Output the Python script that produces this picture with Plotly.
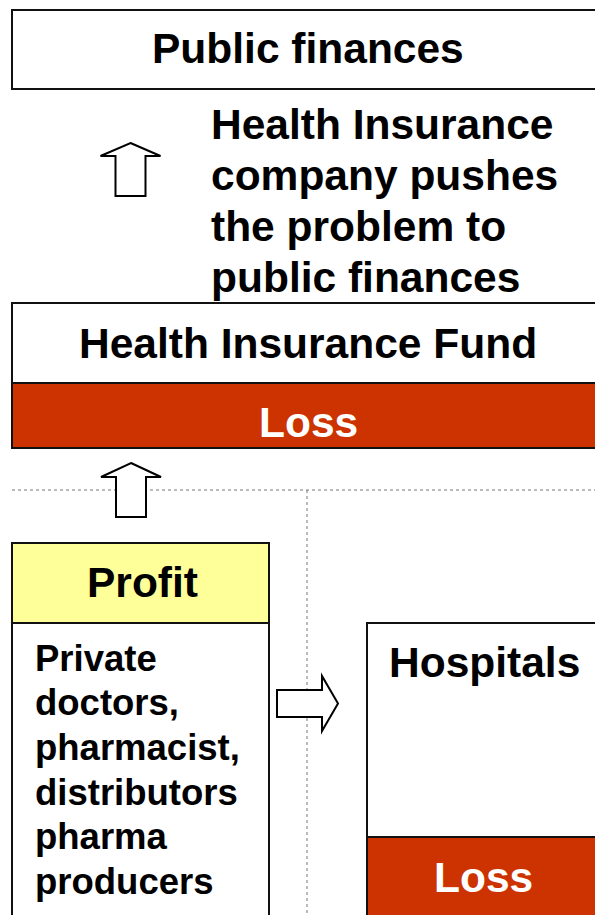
import plotly.graph_objects as go

W, H = 595, 915
FONT = "Liberation Sans, Arial, sans-serif"
LOSS_RED = "#CC3300"
PROFIT_YELLOW = "#FFFF99"

top_label = "Public finances"
push_lines = ["Health Insurance", "company pushes", "the problem to", "public finances"]
fund_label = "Health Insurance Fund"
loss_label = "Loss"
profit_label = "Profit"
provider_lines = ["Private", "doctors,", "pharmacist,", "distributors", "pharma", "producers"]
hospital_label = "Hospitals"

fig = go.Figure()
shapes = []
ann = []

def rect(x0, y0, x1, y1, fill="white", lw=2, color="#111"):
    shapes.append(dict(type="rect", x0=x0, y0=y0, x1=x1, y1=y1, xref="x", yref="y",
                       fillcolor=fill, line=dict(color=color, width=lw), layer="below"))

def text(t, x, y, size=42.5, color="black", xanchor="center"):
    ann.append(dict(text="<b>%s</b>" % t, x=x, y=y, xref="x", yref="y", showarrow=False,
                    xanchor=xanchor, yanchor="middle", borderpad=0,
                    font=dict(family=FONT, size=size, color=color)))

def up_arrow(cx, tip, shoulder, bottom, half_head=30, half_shaft=15):
    p = (f"M {cx},{tip} L {cx+half_head},{shoulder} L {cx+half_shaft},{shoulder} "
         f"L {cx+half_shaft},{bottom} L {cx-half_shaft},{bottom} L {cx-half_shaft},{shoulder} "
         f"L {cx-half_head},{shoulder} Z")
    shapes.append(dict(type="path", path=p, xref="x", yref="y", fillcolor="white",
                       line=dict(color="black", width=2)))

def right_arrow(x0, head_x, tip_x, cy, half_shaft=13.5, half_head=27.5):
    p = (f"M {x0},{cy-half_shaft} L {head_x},{cy-half_shaft} L {head_x},{cy-half_head} "
         f"L {tip_x},{cy} L {head_x},{cy+half_head} L {head_x},{cy+half_shaft} "
         f"L {x0},{cy+half_shaft} Z")
    shapes.append(dict(type="path", path=p, xref="x", yref="y", fillcolor="white",
                       line=dict(color="black", width=2)))

# Public finances box
rect(12, 10, 620, 89)
text(top_label, 308, 48)

# Up arrow + explanation
up_arrow(130.5, 143, 156, 196)
for i, line in enumerate(push_lines):
    text(line, 210, 124 + i * 51, xanchor="left")

# Health Insurance Fund box with loss band
rect(12, 303, 620, 383)
rect(12, 383, 620, 448, fill=LOSS_RED)
text(fund_label, 308, 343)
text(loss_label, 308, 422, color="white")

# dotted separators
shapes.append(dict(type="line", x0=12, x1=600, y0=490, y1=490, xref="x", yref="y",
                   line=dict(color="#777", width=1, dash="dot")))
shapes.append(dict(type="line", x0=307, x1=307, y0=490, y1=920, xref="x", yref="y",
                   line=dict(color="#777", width=1, dash="dot")))

# second up arrow
up_arrow(131, 463, 477, 517)

# Profit box and providers
rect(12, 543, 269, 623, fill=PROFIT_YELLOW)
rect(12, 623, 269, 930)
text(profit_label, 142, 582)
for i, line in enumerate(provider_lines):
    text(line, 34, 658 + i * 44.7, size=36.5, xanchor="left")

# right arrow
right_arrow(277, 322, 338, 703.5)

# Hospitals box
rect(367, 623, 620, 837)
rect(367, 837, 620, 930, fill=LOSS_RED)
text(hospital_label, 388, 662, xanchor="left")
text(loss_label, 483, 877, color="white")

fig.update_layout(
    width=W, height=H, margin=dict(l=0, r=0, t=0, b=0),
    paper_bgcolor="white", plot_bgcolor="white", showlegend=False,
    xaxis=dict(range=[0, W], visible=False, fixedrange=True),
    yaxis=dict(range=[H, 0], visible=False, fixedrange=True),
    shapes=shapes, annotations=ann,
)
fig.write_html("out.html", config={"displayModeBar": False},
               post_script="document.body.style.margin='0';document.body.style.overflow='hidden';")
